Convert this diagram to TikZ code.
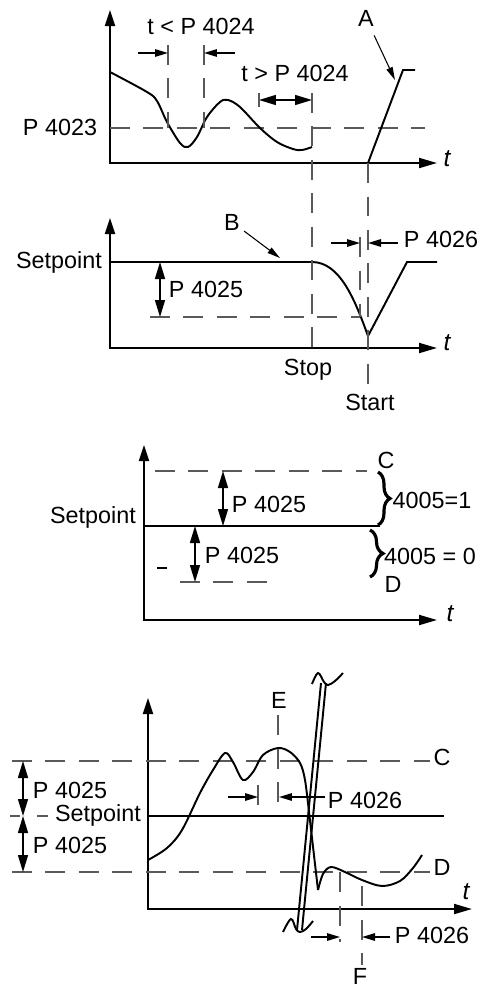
\documentclass[tikz,border=0pt]{standalone}
\usepackage{fontspec}
\setmainfont{Liberation Sans}
\usetikzlibrary{arrows.meta,decorations.pathreplacing}

\begin{document}
\begin{tikzpicture}[
  x=0.02cm,y=-0.02cm,
  every node/.style={font=\fontsize{13.3}{16}\selectfont,inner sep=0pt},
  axis/.style={line width=1.1pt,{Triangle[length=0.32cm,width=0.2cm]}-{Triangle[length=0.36cm,width=0.2cm]}},
  sig/.style={line width=1.1pt},
  guide/.style={draw=black!65,line width=0.8pt,dash pattern=on 0.4cm off 0.27cm},
  span/.style={line width=0.8pt,{Triangle[length=0.34cm,width=0.2cm]}-{Triangle[length=0.34cm,width=0.2cm]}},
  gap/.style={line width=0.8pt,-{Triangle[length=0.26cm,width=0.15cm]}},
  pointer/.style={line width=0.6pt,-{Triangle[length=0.26cm,width=0.13cm]}},
  tlabel/.style={font=\fontsize{14}{16}\selectfont\itshape},
  curly/.style={decorate,decoration={brace,amplitude=#1},line width=1.8pt}
]
  \useasboundingbox (0,0) rectangle (484,988);

  \draw[axis] (110,10) -- (110,163) -- (437,163);
  \node[tlabel] (t1) at (447,159) {t};
  \draw[guide] (110,128) -- (425,128);
  \node (p4023) at (60,127) {P 4023};
  \draw[sig] plot[smooth,tension=0.55] coordinates {(110,72) (147,92) (157,101) (167,122) (180,143) (188,147) (197,137) (207,117) (220,102) (228,100) (240,107) (260,128) (277,142) (293,149) (302,150) (312,147)};
  \draw[sig,line width=1.5pt] (312,163) -- (368,163);
  \draw[sig] (368,163) -- (403,70) -- (415,70);
  \draw[guide] (168,45) -- (168,128);
  \draw[guide] (204,45) -- (204,128);
  \draw[gap] (138,53) -- (168,53);
  \draw[gap] (235,53) -- (204,53);
  \node (tlt) at (201,26) {t < P 4024};
  \draw[span] (259,100) -- (312,100);
  \draw[line width=0.8pt,black!65] (259,93) -- (259,107);
  \node (tgt) at (295,73) {t > P 4024};
  \node (lA) at (366,18) {A};
  \coordinate (aEnd) at (395,80);
  \draw[pointer,shorten <=0.2cm] (lA) -- (aEnd);

  \draw[axis] (110,218) -- (110,348) -- (437,348);
  \node[tlabel] (t2) at (447,343) {t};
  \node (sp2) at (59,262) {Setpoint};
  \draw[sig] (110,262) -- (312,262) .. controls (340,262) and (355,300) .. (368,336) -- (407,262) -- (437,262);
  \draw[guide] (150,317) -- (360,317);
  \draw[span] (160,262) -- (160,317);
  \node (p4025a) at (206,289) {P 4025};
  \draw[guide] (360,237) -- (360,317);
  \draw[guide] (312,93) -- (312,353);
  \draw[guide] (368,163) -- (368,392);
  \draw[gap] (331,243) -- (360,243);
  \draw[gap] (398,243) -- (368,243);
  \node (p4026a) at (441,239) {P 4026};
  \node (lB) at (232,222) {B};
  \coordinate (bEnd) at (280,258);
  \draw[pointer,shorten <=0.1cm] (lB) -- (bEnd);
  \node (stop) at (308,370) {Stop};
  \node (start) at (370,402) {Start};

  \draw[axis] (144,445) -- (144,620) -- (437,620);
  \node[tlabel] (t3) at (450,614) {t};
  \node (sp3) at (93,517) {Setpoint};
  \draw[sig] (144,526) -- (380,526);
  \draw[guide] (155,471) -- (367,471);
  \draw[span] (223,471) -- (223,526);
  \node (p4025b) at (269,504) {P 4025};
  \draw[guide] (180,582) -- (270,582);
  \draw[span] (195,526) -- (195,582);
  \node (p4025c) at (242,555) {P 4025};
  \draw[line width=0.8pt] (157,568) -- (167,568);
  \draw[curly=0.24cm] (378,472) -- (378,525);
  \draw[curly=0.26cm] (370,530) -- (370,577);
  \node (on) at (432,500) {4005=1};
  \node (off) at (430,556) {4005 = 0};
  \node (c3) at (386,460) {C};
  \node (d3) at (393,584) {D};

  \draw[axis] (148,698) -- (148,909) -- (472,909);
  \node[tlabel] (t4) at (466,892) {t};
  \draw[guide] (12,761) -- (430,761);
  \node (c4) at (442,757) {C};
  \draw[guide] (12,872) -- (430,872);
  \node (d4) at (442,867) {D};
  \draw[sig] (148,816) -- (444,816);
  \draw[guide,solid] (10,816) -- (20,816) (37,816) -- (48,816);
  \node (sp4) at (98,815) {Setpoint};
  \draw[span] (23,761) -- (23,816);
  \draw[span] (23,816) -- (23,872);
  \node (p4025d) at (70,790) {P 4025};
  \node (p4025e) at (70,845) {P 4025};
  \draw[sig] plot[smooth,tension=0.55] coordinates {(148,860) (167,848) (182,830) (200,793) (213,770) (225,753) (233,762) (243,780) (253,772) (263,755) (278,748) (290,752) (300,763) (305,780) (309,812)} -- (318,890);
  \draw[sig] plot[smooth,tension=0.55] coordinates {(318,890) (323,874) (331,867) (345,872) (362,880) (382,886) (400,881) (413,868) (422,855)};
  \draw[sig] (321,683) -- (297,930);
  \draw[sig] (326,683) -- (302,930);
  \draw[sig] plot[smooth,tension=0.6] coordinates {(312,684) (318,673) (324,682) (328,685) (335,681) (343,673)};
  \draw[sig] plot[smooth,tension=0.6] coordinates {(283,932) (291,919) (296,929) (300,932) (306,929) (313,921)};
  \node (lE) at (279,700) {E};
  \draw[guide] (278,715) -- (278,807);
  \draw[guide] (258,785) -- (258,807);
  \draw[gap] (228,797) -- (258,797);
  \draw[gap] (325,797) -- (279,797);
  \node (p4026b) at (365,800) {P 4026};
  \draw[guide] (340,872) -- (340,942);
  \draw[guide] (362,886) -- (362,965);
  \draw[gap] (311,937) -- (340,937);
  \draw[gap] (390,937) -- (362,937);
  \node (p4026c) at (432,935) {P 4026};
  \node (lF) at (360,976) {F};
\end{tikzpicture}
\end{document}
